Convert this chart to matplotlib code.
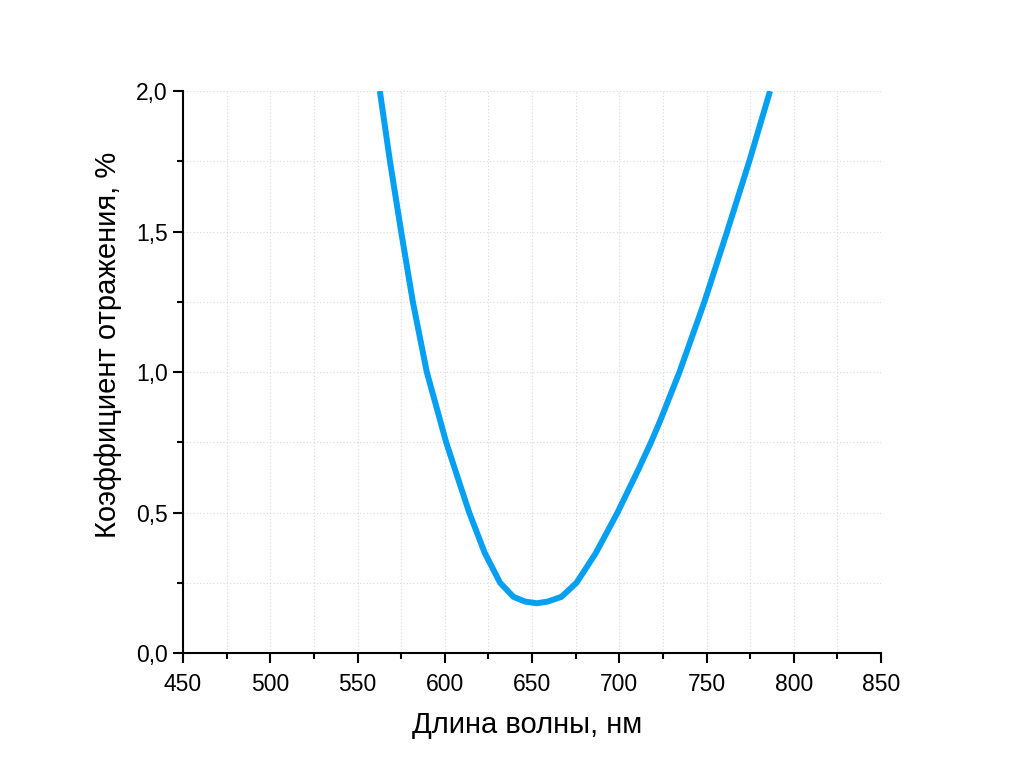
import numpy as np
import matplotlib
matplotlib.use("Agg")
import matplotlib.pyplot as plt
from matplotlib.ticker import MultipleLocator, FuncFormatter

plt.rcParams["font.family"] = ["Liberation Sans", "DejaVu Sans"]

# reflectance curve
wavelength = [562.8, 568.6, 575.0, 581.7, 589.7, 600.8, 606.0, 614.0, 623.0,
              631.7, 639.3, 646.0, 652.7, 659.0, 666.9, 675.5, 686.5, 699.0,
              710.8, 718.2, 723.6, 734.5, 748.8, 761.8, 774.5, 786.4]
reflectance = [2.0, 1.75, 1.5, 1.25, 1.0, 0.75, 0.651, 0.5, 0.355,
               0.25, 0.2, 0.183, 0.177, 0.183, 0.2, 0.25, 0.355, 0.5,
               0.651, 0.75, 0.829, 1.0, 1.25, 1.5, 1.75, 2.0]

fig = plt.figure(figsize=(10.24, 7.84), dpi=100)
ax = fig.add_axes([0.1787, 0.1671, 0.6817, 0.7168])

ax.plot(wavelength, reflectance, color="#05A0F2", lw=4.3,
        solid_capstyle="butt", solid_joinstyle="round", zorder=3)

ax.set_xlim(450, 850)
ax.set_ylim(0, 2.0)
ax.xaxis.set_major_locator(MultipleLocator(50))
ax.xaxis.set_minor_locator(MultipleLocator(25))
ax.yaxis.set_major_locator(MultipleLocator(0.5))
ax.yaxis.set_minor_locator(MultipleLocator(0.25))
ax.yaxis.set_major_formatter(FuncFormatter(lambda v, p: f"{v:.1f}".replace(".", ",")))

ax.grid(which="both", linestyle=(0, (1, 2)), color="#d9d9d9", lw=0.8)
ax.set_axisbelow(True)

for s in ["top", "right"]:
    ax.spines[s].set_visible(False)
for s in ["left", "bottom"]:
    ax.spines[s].set_linewidth(1.5)

ax.tick_params(which="major", direction="out", length=7, width=1.5, labelsize=16.5, pad=4)
ax.tick_params(axis="x", which="major", pad=7.5)
ax.tick_params(which="minor", direction="out", length=4, width=1.5)

ax.set_xlabel("Длина волны, нм", fontsize=21, labelpad=11, x=0.4924)
ax.set_ylabel("Коэффициент отражения, %", fontsize=21, labelpad=10, y=0.548)

fig.savefig("out.png", dpi=100)
